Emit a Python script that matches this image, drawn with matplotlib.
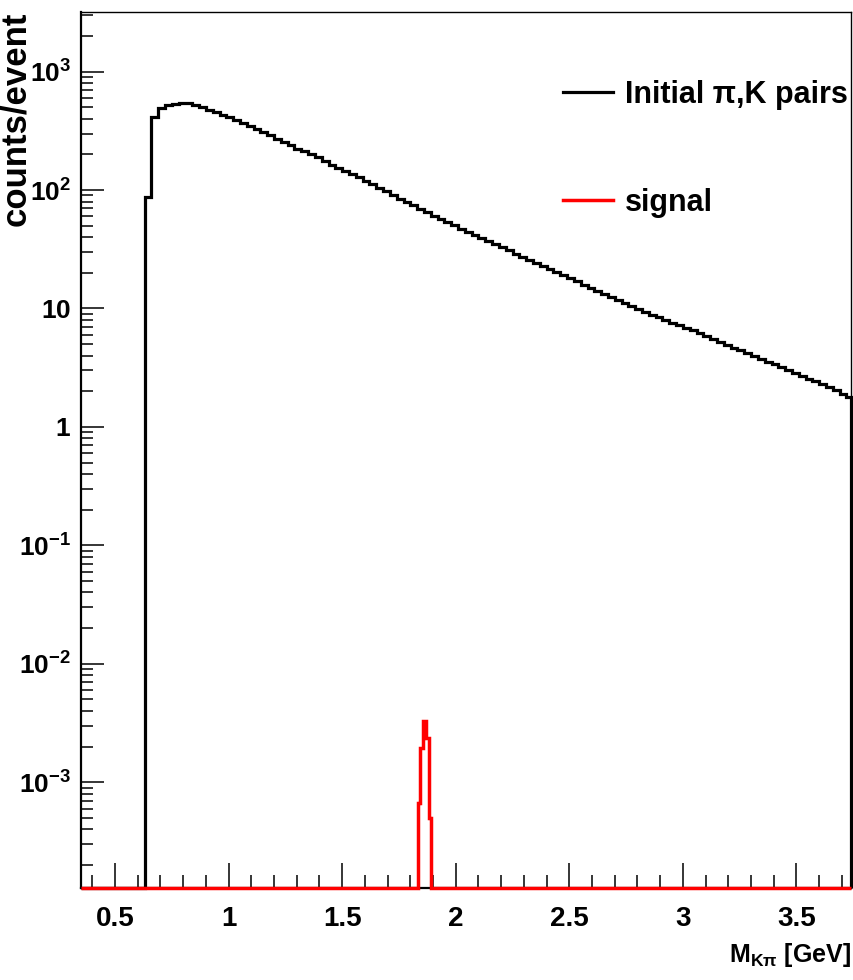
import numpy as np
import matplotlib
matplotlib.use("Agg")
import matplotlib.pyplot as plt
from matplotlib.ticker import FixedLocator, FixedFormatter, LogLocator, MultipleLocator, NullFormatter

# --- data ---
PAIR_LO, PAIR_W = 0.63, 0.03          # Initial pi,K pairs: first bin edge, bin width [GeV]
pair_counts = [
    87, 417, 490, 522, 537, 542, 538, 525, 501, 474,
    453, 433, 414, 391, 367, 347, 328, 311, 291, 272,
    255, 239, 224, 212, 201, 189, 176, 164, 154, 145,
    136, 128, 120, 112, 104.5, 97.3, 90.6, 84.7, 79.3, 74.1,
    69.3, 64.9, 60.8, 57.1, 53.6, 50.4, 47.2, 44.4, 41.8, 39.4,
    37.0, 34.8, 32.8, 30.9, 29.1, 27.4, 25.8, 24.3, 22.9, 21.6,
    20.3, 19.1, 18.0, 16.9, 15.9, 14.9, 14.0, 13.2, 12.5, 11.7,
    11.1, 10.4, 9.91, 9.38, 8.89, 8.41, 7.98, 7.57, 7.19, 6.85,
    6.52, 6.18, 5.85, 5.52, 5.22, 4.94, 4.66, 4.42, 4.18, 3.96,
    3.75, 3.55, 3.37, 3.18, 3.02, 2.86, 2.71, 2.56, 2.42, 2.29,
    2.16, 2.03, 1.91, 1.78,
]
SIG_LO, SIG_W = 1.832, 0.012          # signal peak bins
signal_counts = [6.7e-4, 1.94e-3, 3.28e-3, 2.36e-3, 4.97e-4]

X_MIN, X_MAX = 0.35, 3.74
Y_MIN, Y_MAX = 1.28e-4, 3200

ytick_vals = [1e-3, 1e-2, 1e-1, 1, 10, 100, 1000]
ytick_labels = ["$10^{-3}$", "$10^{-2}$", "$10^{-1}$", "$1$", "$10$", "$10^{2}$", "$10^{3}$"]
xtick_vals = [0.5, 1, 1.5, 2, 2.5, 3, 3.5]
xtick_labels = ["0.5", "1", "1.5", "2", "2.5", "3", "3.5"]

# --- fonts: bold helvetica look ---
plt.rcParams["font.family"] = ["Liberation Sans", "DejaVu Sans"]
plt.rcParams["font.weight"] = "bold"
plt.rcParams["axes.labelweight"] = "bold"
plt.rcParams["mathtext.fontset"] = "custom"
plt.rcParams["mathtext.default"] = "bf"
plt.rcParams["mathtext.bf"] = "Liberation Sans:bold"
plt.rcParams["mathtext.rm"] = "Liberation Sans:bold"
plt.rcParams["mathtext.it"] = "Liberation Sans:bold"


def hist_line(lo, width, counts):
    """Full-range stairs; empty bins sit on the bottom of the frame like ROOT."""
    counts = np.asarray(counts, dtype=float)
    edges = lo + width * np.arange(len(counts) + 1)
    edges = np.concatenate([[X_MIN], edges, [X_MAX]])
    vals = np.concatenate([[0.0], counts, [0.0]])
    edges = np.clip(edges, X_MIN, X_MAX)
    vals = np.where(vals > 0, vals, Y_MIN)
    return edges, vals


fig = plt.figure(figsize=(8.54, 9.8), dpi=100)
ax = fig.add_axes([0.0948, 0.0939, 0.9017, 0.8941])

e, v = hist_line(PAIR_LO, PAIR_W, pair_counts)
ax.stairs(v, e, baseline=None, color="black", lw=2.3, zorder=3, clip_on=False,
          label="Initial \u03c0,K pairs")
e, v = hist_line(SIG_LO, SIG_W, signal_counts)
ax.stairs(v, e, baseline=None, color="#ff0000", lw=2.5, zorder=4, clip_on=False,
          label="signal")

ax.set_yscale("log")
ax.set_xlim(X_MIN, X_MAX)
ax.set_ylim(Y_MIN, Y_MAX)

ax.yaxis.set_major_locator(FixedLocator(ytick_vals))
ax.yaxis.set_major_formatter(FixedFormatter(ytick_labels))
ax.yaxis.set_minor_locator(LogLocator(base=10, subs=np.arange(2, 10), numticks=30))
ax.yaxis.set_minor_formatter(NullFormatter())
ax.xaxis.set_major_locator(FixedLocator(xtick_vals))
ax.xaxis.set_major_formatter(FixedFormatter(xtick_labels))
ax.xaxis.set_minor_locator(MultipleLocator(0.1))

ax.tick_params(which="both", direction="in", top=False, right=False, width=1.1)
ax.tick_params(axis="x", which="major", length=18, pad=13, labelsize=20)
ax.tick_params(axis="x", which="minor", length=9.4)
ax.tick_params(axis="y", which="major", length=16.5, pad=7, labelsize=19)
ax.tick_params(axis="y", which="minor", length=8.6)

for side in ["left", "bottom"]:
    ax.spines[side].set_linewidth(1.6)
for side in ["top", "right"]:
    ax.spines[side].set_linewidth(1.0)

ax.set_ylabel("counts/event", fontsize=25, loc="top")
ax.yaxis.set_label_coords(-0.063, 1.0)
ax.set_xlabel(r"$M_{K\pi}$ [GeV]", fontsize=18, loc="right")
ax.xaxis.set_label_coords(1.0, -0.060)

ax.legend(loc="upper left", bbox_to_anchor=(0.626, 0.922), frameon=False, fontsize=22,
          handlelength=1.63, handletextpad=0.4, labelspacing=2.55, borderaxespad=0,
          borderpad=0)

fig.savefig("out.png", dpi=100)
